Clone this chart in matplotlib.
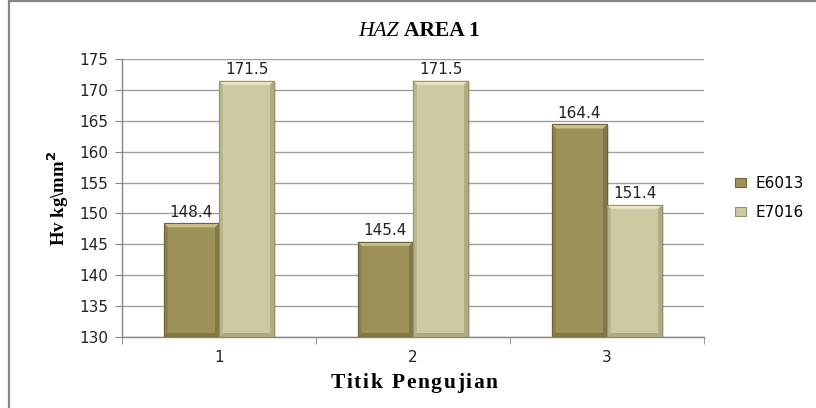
import matplotlib
matplotlib.use("Agg")
import matplotlib.pyplot as plt
from matplotlib.patches import Polygon, Rectangle
import numpy as np

categories = ["1", "2", "3"]
series_names = ["E6013", "E7016"]
e6013 = [148.4, 145.4, 164.4]
e7016 = [171.5, 171.5, 151.4]
y_ticks = [130, 135, 140, 145, 150, 155, 160, 165, 170, 175]

colors = ["#9c9259", "#cfc9a1"]
dark = ["#6e6638", "#99936c"]
light = ["#c9c08a", "#ece7c8"]

W, H = 816, 408
fig = plt.figure(figsize=(W / 100, H / 100), dpi=100)
fig.patch.set_facecolor("white")

# chart frame
fig.add_artist(Rectangle((9 / W, -0.1), 1.2, (H - 1.5) / H + 0.1, transform=fig.transFigure,
                         fill=False, edgecolor="#868686", linewidth=1.6))

ax = fig.add_axes([122 / W, 1 - 337 / H, (704 - 122) / W, (337 - 59) / H])
ax.set_xlim(0.5, 3.5)
ax.set_ylim(130, 175)

x = np.arange(1, len(categories) + 1)
bw = 0.284
series = [e6013, e7016]
offsets = [-bw / 2, bw / 2]

# pixel-to-data scale factors for bevel sizes
px_x = 3.0 / (704 - 122)
px_y = 45.0 / (337 - 59)
bev = 4

sans = "DejaVu Sans"
serif = "Liberation Serif"
for i, vals in enumerate(series):
    bars = ax.bar(x + offsets[i], np.array(vals) - 130, bw, bottom=130, color=colors[i],
                  edgecolor=dark[i], linewidth=0.8, zorder=3, label=series_names[i])
    for b, v in zip(bars, vals):
        x0, x1 = b.get_x(), b.get_x() + b.get_width()
        y0, y1 = 130, v
        dx, dy = bev * px_x, bev * px_y
        # soft shadow
        ax.add_patch(Rectangle((x0 + 1.5 * px_x, y0 - 1.5 * px_y), x1 - x0, y1 - y0,
                               facecolor="#000000", alpha=0.12, edgecolor="none", zorder=2))
        # bevel top (light), sides and bottom
        ax.add_patch(Polygon([(x0, y1), (x1, y1), (x1 - dx, y1 - dy), (x0 + dx, y1 - dy)],
                             closed=True, facecolor=light[i], edgecolor="none", zorder=4))
        ax.add_patch(Polygon([(x1, y1), (x1, y0), (x1 - dx, y0 + dy), (x1 - dx, y1 - dy)],
                             closed=True, facecolor=dark[i], alpha=0.55, edgecolor="none", zorder=4))
        ax.add_patch(Polygon([(x0, y1), (x0, y0), (x0 + dx, y0 + dy), (x0 + dx, y1 - dy)],
                             closed=True, facecolor=dark[i], alpha=0.35, edgecolor="none", zorder=4))
        ax.add_patch(Polygon([(x0, y0), (x1, y0), (x1 - dx, y0 + dy), (x0 + dx, y0 + dy)],
                             closed=True, facecolor=dark[i], alpha=0.6, edgecolor="none", zorder=4))
        ax.add_patch(Rectangle((x0, y0), x1 - x0, y1 - y0, fill=False,
                               edgecolor=dark[i], linewidth=0.8, zorder=5))
        ax.annotate(f"{v:.1f}", xy=(b.get_x() + b.get_width() / 2, v), xytext=(0, 2.5),
                    textcoords="offset points", ha="center", va="bottom",
                    fontsize=11, family=sans, color="#222222", zorder=6)

ax.set_yticks(y_ticks)
ax.set_yticklabels([str(t) for t in y_ticks], fontsize=11, family=sans, color="#222222")
ax.set_xticks(x)
ax.set_xticklabels(categories, fontsize=11, family=sans, color="#222222")
ax.set_xticks(np.arange(0.5, 3.6, 1.0), minor=True)
ax.tick_params(axis="x", which="major", length=0, pad=9)
ax.tick_params(axis="x", which="minor", length=5, color="#868686", direction="out")
ax.tick_params(axis="y", length=5, color="#868686", direction="out", pad=5)

ax.grid(axis="y", color="#a0a0a0", linewidth=1.0, zorder=0)
ax.set_axisbelow(True)
for s in ["top", "right"]:
    ax.spines[s].set_visible(False)
for s in ["left", "bottom"]:
    ax.spines[s].set_color("#868686")
    ax.spines[s].set_linewidth(1.0)

ax.set_ylabel(r"Hv kg\mm$^\mathbf{2}$", family=serif, fontweight="bold",
              fontsize=13.5, labelpad=6)

fig.canvas.draw()
renderer = fig.canvas.get_renderer()


def text_width(s, **kw):
    t = fig.text(0, 0, s, **kw)
    w = t.get_window_extent(renderer).width
    t.remove()
    return w


# title: italic "HAZ" followed by bold "AREA 1", centred as one line
title_parts = [("HAZ ", dict(style="italic")), ("AREA 1", dict(fontweight="bold"))]
tsize, t_center, t_base = 15.5, 419, 36
tw = [text_width(s, family=serif, fontsize=tsize, **kw) for s, kw in title_parts]
cur = t_center - sum(tw) / 2
for (s, kw), w in zip(title_parts, tw):
    fig.text(cur / W, 1 - t_base / H, s, family=serif, fontsize=tsize, ha="left",
             va="baseline", **kw)
    cur += w

# letter-spaced x axis title
xlabel = "Titik Pengujian"
x_center, x_base, spacing, xsize = 414, 388, 1.6, 15.5
widths = []
for ch in xlabel:
    w = text_width(ch if ch != " " else "n", family=serif, fontweight="bold", fontsize=xsize)
    if ch == " ":
        w *= 0.5
    widths.append(w)
total = sum(widths) + spacing * (len(xlabel) - 1)
cur = x_center - total / 2
for ch, w in zip(xlabel, widths):
    if ch != " ":
        fig.text(cur / W, 1 - x_base / H, ch, family=serif, fontweight="bold",
                 fontsize=xsize, ha="left", va="baseline")
    cur += w + spacing

leg = ax.legend(loc="center left", bbox_to_anchor=(1.03, 0.5), frameon=False,
                prop={"family": sans, "size": 11}, handlelength=0.7, handleheight=0.5,
                labelspacing=0.95, handletextpad=0.6)

fig.savefig("out.png", dpi=100)
